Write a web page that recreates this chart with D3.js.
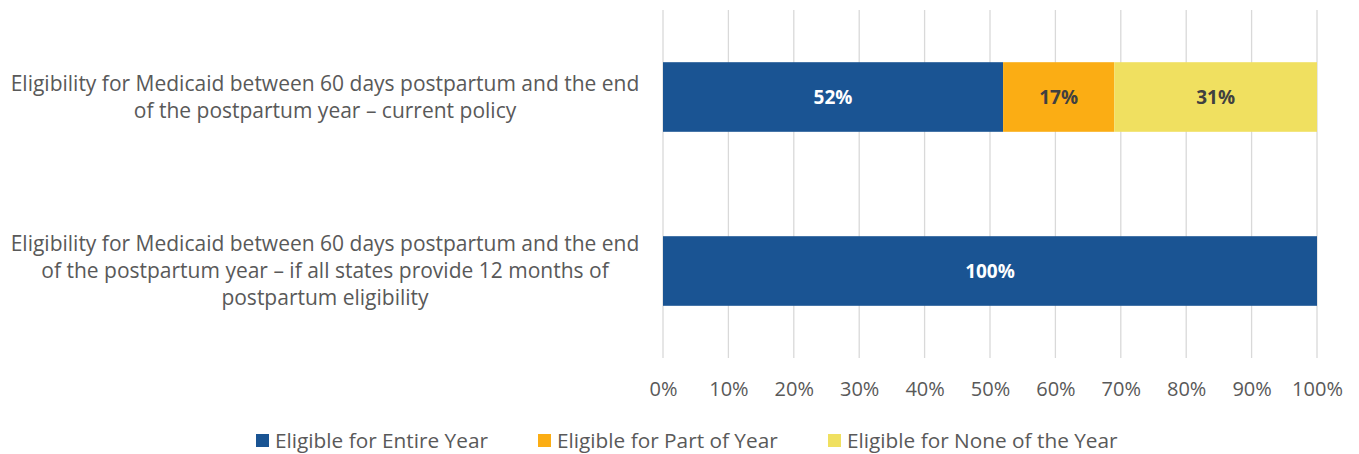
<!DOCTYPE html>
<html>
<head>
<meta charset="utf-8">
<script src="https://cdn.jsdelivr.net/npm/d3@7"></script>
<style>
  body { margin: 0; background: #fff; }
  text { font-family: "Open Sans", sans-serif; }
</style>
</head>
<body>
<script>
var categories = [
    ["Eligibility for Medicaid between 60 days postpartum and the end", "of the postpartum year \u2013 current policy"],
    ["Eligibility for Medicaid between 60 days postpartum and the end", "of the postpartum year \u2013 if all states provide 12 months of", "postpartum eligibility"]
];
var seriesNames = ["Eligible for Entire Year", "Eligible for Part of Year", "Eligible for None of the Year"];
var entireYear = [52, 100];
var partOfYear = [17, 0];
var noneOfYear = [31, 0];
var tickValues = [0, 10, 20, 30, 40, 50, 60, 70, 80, 90, 100];
var colors = ["#1a5493", "#fbad14", "#f0e060"];
var labelColors = ["#ffffff", "#404040", "#404040"];

var w = 1359, h = 454;
var plotLeft = 663, plotRight = 1317, plotTop = 10, plotBottom = 358;

var svg = d3.select("body").append("svg")
    .attr("width", w)
    .attr("height", h);

var x = d3.scaleLinear().domain([0, 100]).range([plotLeft, plotRight]);
var y = d3.scaleBand().domain(d3.range(categories.length)).range([plotTop, plotBottom]).paddingInner(0.6).paddingOuter(0.3);

// gridlines
svg.selectAll("line.grid")
    .data(tickValues)
    .enter()
    .append("line")
    .attr("x1", function(d) { return x(d); })
    .attr("x2", function(d) { return x(d); })
    .attr("y1", plotTop)
    .attr("y2", plotBottom)
    .attr("stroke", "#d9d9d9")
    .attr("stroke-width", 1.3);

// stack the series
var rows = categories.map(function(c, i) {
    return { i: i, vals: [entireYear[i], partOfYear[i], noneOfYear[i]] };
});

rows.forEach(function(r) {
    var acc = 0;
    r.vals.forEach(function(v, s) {
        if (v > 0) {
            svg.append("rect")
                .attr("x", x(acc))
                .attr("y", y(r.i))
                .attr("width", x(acc + v) - x(acc))
                .attr("height", y.bandwidth())
                .attr("fill", colors[s]);
            svg.append("text")
                .attr("x", (x(acc) + x(acc + v)) / 2)
                .attr("y", y(r.i) + y.bandwidth() / 2)
                .attr("dy", "0.35em")
                .attr("text-anchor", "middle")
                .attr("font-size", "19px")
                .attr("font-weight", "bold")
                .attr("fill", labelColors[s])
                .text(v + "%");
        }
        acc += v;
    });
});

// category labels
var catLabels = svg.selectAll("text.cat")
    .data(categories)
    .enter()
    .append("text")
    .attr("class", "cat")
    .attr("text-anchor", "middle")
    .attr("font-size", "21px")
    .attr("fill", "#595959");

catLabels.each(function(d, i) {
    var lh = 27;
    var cy = y(i) + y.bandwidth() / 2;
    var y0 = cy - (d.length - 1) * lh / 2;
    d3.select(this).selectAll("tspan")
        .data(d)
        .enter()
        .append("tspan")
        .attr("x", 325)
        .attr("y", function(t, j) { return y0 + j * lh; })
        .attr("dy", "0.35em")
        .text(function(t) { return t; });
});

// x axis labels
var axis = d3.axisBottom(x).tickValues(tickValues).tickSize(0).tickPadding(0)
    .tickFormat(function(d) { return d + "%"; });
var ax = svg.append("g").attr("transform", "translate(0,382)").call(axis);
ax.select(".domain").remove();
ax.selectAll("text")
    .attr("font-family", "Open Sans, sans-serif")
    .attr("font-size", "20px")
    .attr("fill", "#595959");

// legend
var legendX = [256, 538, 828];
var legend = svg.selectAll("g.legend")
    .data(seriesNames)
    .enter()
    .append("g")
    .attr("class", "legend")
    .attr("transform", function(d, i) { return "translate(" + legendX[i] + ",434)"; });

legend.append("rect")
    .attr("width", 13)
    .attr("height", 13)
    .attr("fill", function(d, i) { return colors[i]; });

legend.append("text")
    .attr("x", 19)
    .attr("y", 7)
    .attr("dy", "0.35em")
    .attr("font-size", "20.8px")
    .attr("fill", "#595959")
    .text(function(d) { return d; });
</script>
</body>
</html>
